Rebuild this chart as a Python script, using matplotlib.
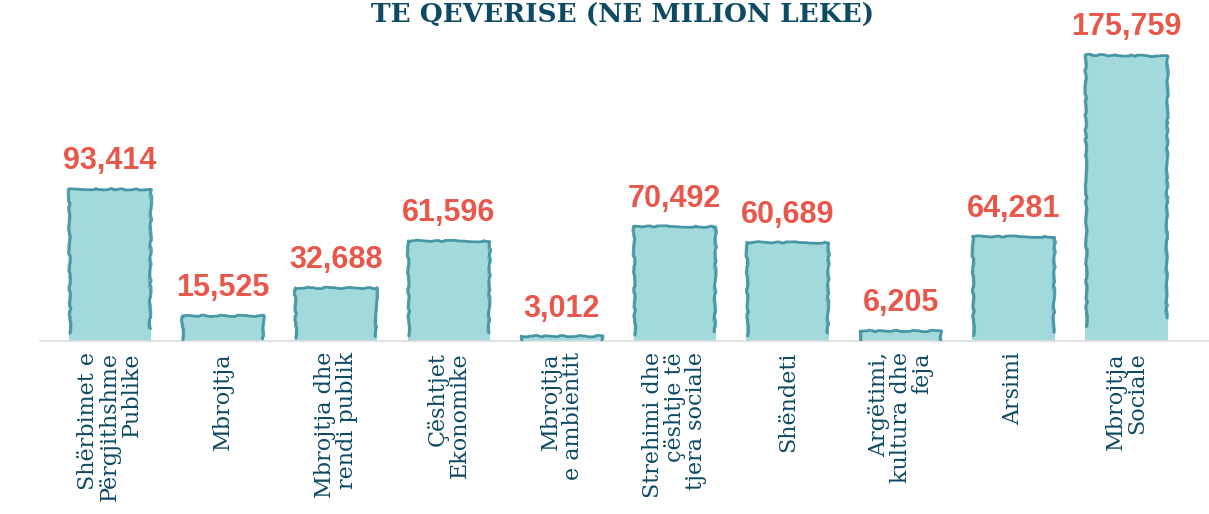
import numpy as np
import matplotlib.pyplot as plt

# Te dhenat (milion leke)
kategorite = [
    "Shërbimet e\nPërgjithshme\nPublike",
    "Mbrojtja",
    "Mbrojtja dhe\nrendi publik",
    "Çështjet\nEkonomike",
    "Mbrojtja\ne ambientit",
    "Strehimi dhe\nçështje të\ntjera sociale",
    "Shëndeti",
    "Argëtimi,\nkultura dhe\nfeja",
    "Arsimi",
    "Mbrojtja\nSociale",
]
vlerat = [93414, 15525, 32688, 61596, 3012, 70492, 60689, 6205, 64281, 175759]

ngjyra_bar = "#a2d9db"
ngjyra_ske = "#3b8e9e"
ngjyra_vlere = "#e8574a"
ngjyra_teksti = "#0d4a63"

fig = plt.figure(figsize=(12.09, 5.14), dpi=100)
ax = fig.add_axes([40 / 1209, 173 / 514, 1169 / 1209, 311 / 514])

x = np.arange(len(vlerat))
w = 0.73
ax.bar(x, vlerat, width=w, color=ngjyra_bar, zorder=2)

# skica e dores rreth shtyllave
for xi, v in zip(x, vlerat):
    l, r = xi - w / 2, xi + w / 2
    for dx, lw, a in [(0.0, 2.0, 0.85), (0.012, 1.0, 0.5)]:
        ln, = ax.plot([l + 0.01 + dx, l + dx, r - dx, r - 0.01 - dx],
                      [v * 0.05, v, v * 0.995, v * 0.08],
                      color=ngjyra_ske, lw=lw, alpha=a, zorder=3,
                      solid_capstyle="round")
        ln.set_sketch_params(scale=0.7, length=60, randomness=20)
    ax.annotate(f"{v:,}", (xi, v), xytext=(0, 9), textcoords="offset points",
                ha="center", va="bottom", color=ngjyra_vlere,
                fontsize=22, fontweight="bold", family="Liberation Sans")

ax.set_xlim(-0.62, 9.73)
ax.set_ylim(0, 191000)
ax.set_yticks([])
ax.set_xticks(x)
ax.set_xticklabels(kategorite, rotation=90, ha="center", va="top",
                   multialignment="right", family="DejaVu Serif",
                   fontsize=16, color=ngjyra_teksti, linespacing=0.98)
ax.tick_params(axis="x", length=0, pad=8)
for s in ["top", "left", "right"]:
    ax.spines[s].set_visible(False)
ax.spines["bottom"].set_color("#d8dde0")
ax.spines["bottom"].set_linewidth(1.2)

fig.text(623 / 1209, 1 - 15 / 514, "TE QEVERISE (NE MILION LEKE)",
         ha="center", va="center", family="DejaVu Serif", fontweight="bold",
         fontsize=19, color=ngjyra_teksti)

fig.savefig("out.png", dpi=100)
